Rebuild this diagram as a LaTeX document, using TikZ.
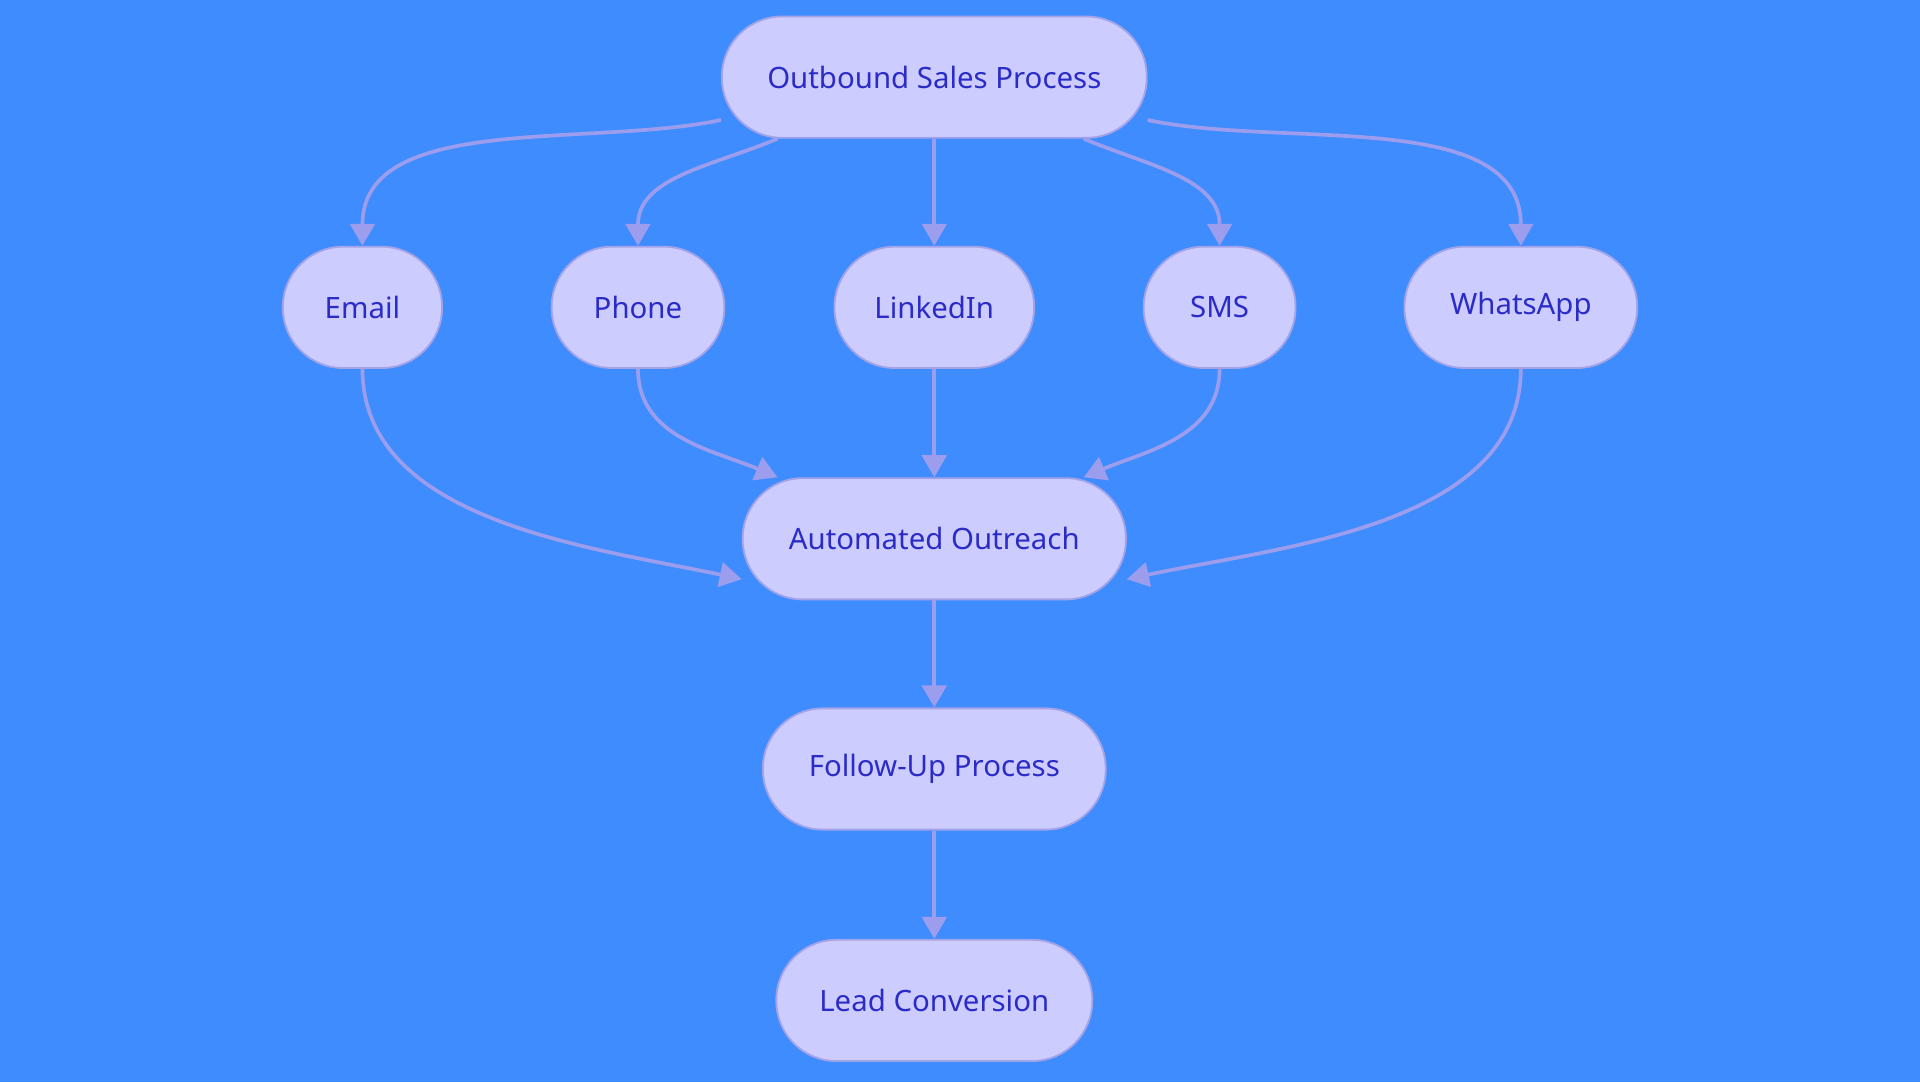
\documentclass[tikz,border=0pt]{standalone}
\usepackage{fontspec}
\setmainfont{Noto Sans}
\usetikzlibrary{arrows.meta,calc}
\definecolor{bg}{HTML}{3F8CFF}
\definecolor{nf}{HTML}{CCCCFF}
\definecolor{nb}{HTML}{A3A3E8}
\definecolor{tx}{HTML}{2B2BC8}
\definecolor{ed}{HTML}{9D9DEE}
\begin{document}
\begin{tikzpicture}[x=1pt,y=1pt,
  n/.style={draw=nb,line width=1.5pt,fill=nf,rounded corners=49pt,minimum height=99pt,text=tx,font=\fontsize{24}{28}\selectfont,inner sep=0pt},
  e/.style={draw=ed,line width=3pt,-{Triangle[length=18pt,width=20pt]}}]
\fill[bg] (0,0) rectangle (1568,-884);
\useasboundingbox (0,0) rectangle (1568,-884);
\node[n,minimum width=347pt] (out) at (763,-63) {Outbound Sales Process};
\node[n,minimum width=130pt] (email) at (296,-251) {Email};
\node[n,minimum width=141pt] (phone) at (521,-251) {Phone};
\node[n,minimum width=163pt] (li) at (763,-251) {LinkedIn};
\node[n,minimum width=124pt] (sms) at (996,-251) {SMS};
\node[n,minimum width=190pt] (wa) at (1242,-251) {WhatsApp};
\node[n,minimum width=313pt] (auto) at (763,-440) {Automated Outreach};
\node[n,minimum width=280pt] (fu) at (763,-628) {Follow-Up Process};
\node[n,minimum width=258pt] (lead) at (763,-817) {Lead Conversion};
\draw[e] ($(out.west)+(0,-35)$) to[out=192,in=90,looseness=0.9] (email.north);
\draw[e] ($(out.south)+(-128,0)$) to[out=203,in=90] (phone.north);
\draw[e] (out) -- (li);
\draw[e] ($(out.south)+(122,0)$) to[out=-23,in=90] (sms.north);
\draw[e] ($(out.east)+(0,-35)$) to[out=-12,in=90,looseness=0.9] (wa.north);
\draw[e] (email.south) to[out=-90,in=168,looseness=0.9] ($(auto.west)+(0,-33)$);
\draw[e] (phone.south) to[out=-90,in=157] ($(auto.north)+(-128,0)$);
\draw[e] (li) -- (auto);
\draw[e] (sms.south) to[out=-90,in=23] ($(auto.north)+(122,0)$);
\draw[e] (wa.south) to[out=-90,in=12,looseness=0.9] ($(auto.east)+(0,-33)$);
\draw[e] (auto) -- (fu);
\draw[e] (fu) -- (lead);
\end{tikzpicture}
\end{document}
